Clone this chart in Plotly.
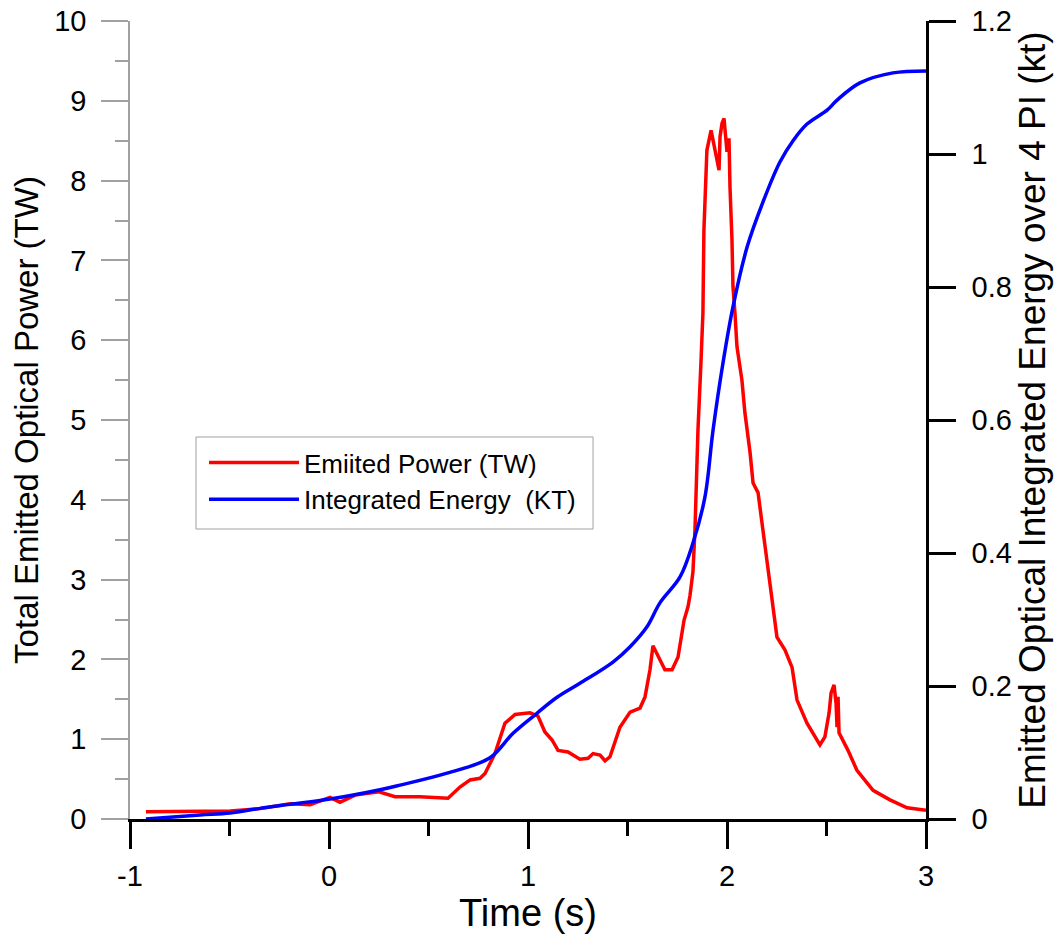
import plotly.graph_objects as go

# ---- data ----
t_power = [-0.920, -0.648, -0.497, -0.347, -0.196, -0.095, 0.005, 0.055, 0.131, 0.251,
           0.332, 0.457, 0.558, 0.598, 0.658, 0.709, 0.759, 0.784, 0.834, 0.884,
           0.935, 1.010, 1.050, 1.085, 1.121, 1.151, 1.201, 1.261, 1.302, 1.327,
           1.362, 1.387, 1.412, 1.462, 1.513, 1.563, 1.588, 1.613, 1.628, 1.663,
           1.688, 1.724, 1.754, 1.784, 1.804, 1.814, 1.829, 1.839, 1.854, 1.869,
           1.879, 1.884, 1.894, 1.899, 1.920, 1.930, 1.950, 1.960, 1.965, 1.975,
           1.985, 1.995, 2.000, 2.010, 2.015, 2.025, 2.030, 2.040, 2.050, 2.075,
           2.090, 2.116, 2.131, 2.156, 2.176, 2.201, 2.226, 2.251, 2.291, 2.327,
           2.352, 2.402, 2.467, 2.492, 2.513, 2.523, 2.538, 2.548, 2.553, 2.558,
           2.563, 2.608, 2.653, 2.734, 2.819, 2.905, 3.000]
power_tw = [0.09, 0.09, 0.10, 0.13, 0.19, 0.18, 0.27, 0.21, 0.30, 0.34,
            0.28, 0.28, 0.26, 0.26, 0.40, 0.49, 0.51, 0.57, 0.82, 1.20,
            1.31, 1.33, 1.29, 1.09, 0.99, 0.86, 0.84, 0.75, 0.76, 0.82,
            0.80, 0.73, 0.78, 1.15, 1.34, 1.39, 1.53, 1.87, 2.17, 1.99,
            1.87, 1.87, 2.03, 2.49, 2.66, 2.80, 3.10, 3.62, 4.87, 5.71,
            6.34, 7.38, 8.00, 8.38, 8.63, 8.50, 8.26, 8.13, 8.55, 8.72,
            8.78, 8.50, 8.36, 8.53, 7.92, 7.26, 6.67, 6.34, 5.92, 5.50,
            5.09, 4.59, 4.21, 4.09, 3.71, 3.21, 2.74, 2.28, 2.12, 1.90,
            1.49, 1.20, 0.93, 1.03, 1.33, 1.58, 1.68, 1.45, 1.15, 1.53,
            1.08, 0.86, 0.61, 0.36, 0.24, 0.14, 0.11]

t_energy = [-0.920, -0.648, -0.497, -0.347, -0.196, 0.005, 0.256, 0.357, 0.593, 0.809,
            0.925, 1.045, 1.146, 1.261, 1.427, 1.513, 1.598, 1.663, 1.764, 1.829,
            1.889, 1.930, 1.980, 2.030, 2.101, 2.181, 2.266, 2.332, 2.402, 2.503,
            2.553, 2.668, 2.834, 3.000]
energy_kt = [0.000, 0.006, 0.009, 0.016, 0.022, 0.030, 0.044, 0.051, 0.069, 0.092,
             0.129, 0.159, 0.183, 0.204, 0.236, 0.259, 0.289, 0.325, 0.364, 0.415,
             0.484, 0.585, 0.686, 0.770, 0.860, 0.928, 0.988, 1.020, 1.045, 1.066,
             1.081, 1.107, 1.122, 1.125]

x_tick_values = [-1, 0, 1, 2, 3]
x_tick_labels = ["-1", "0", "1", "2", "3"]

series_names = ["Emiited Power (TW)", "Integrated Energy  (KT)"]
x_title = "Time (s)"
y_title = "Total Emitted Optical Power (TW)"
y2_title = "Emitted Optical Integrated Energy over 4 PI (kt)"

FONT = "Liberation Sans, Arial, sans-serif"

fig = go.Figure()
fig.add_trace(go.Scatter(x=t_power, y=power_tw, mode="lines", name=series_names[0],
                         line=dict(color="#ff0000", width=3.5), yaxis="y"))
fig.add_trace(go.Scatter(x=t_energy, y=energy_kt, mode="lines", name=series_names[1],
                         line=dict(color="#0000ff", width=3.5, shape="spline"), yaxis="y2"))

fig.update_layout(
    width=1062, height=937,
    margin=dict(l=130, r=136, t=21, b=118),
    paper_bgcolor="white", plot_bgcolor="white",
    font=dict(family=FONT, color="black", size=29),
    showlegend=True,
    legend=dict(x=0.093, y=0.476, xanchor="left", yanchor="top",
                borderwidth=0, bgcolor="rgba(0,0,0,0)",
                font=dict(size=26, family=FONT), itemwidth=90,
                tracegroupgap=0),
    # frame around the legend, matching the reference box
    shapes=[dict(type="rect", xref="paper", yref="paper",
                 x0=0.0829, x1=0.5817, y0=0.3634, y1=0.4787,
                 line=dict(color="#a0a0a0", width=1), fillcolor="white",
                 layer="below")],
    xaxis=dict(range=[-1, 3], tickvals=x_tick_values, ticktext=x_tick_labels,
               showgrid=False, zeroline=False, automargin=False,
               ticklabeloverflow="allow",
               showline=True, linecolor="black", linewidth=3,
               ticks="outside", ticklen=27, tickwidth=2.5, tickcolor="black",
               minor=dict(dtick=0.5, tick0=-1, ticks="outside", ticklen=14, tickwidth=2.5,
                          tickcolor="black", showgrid=False),
               tickfont=dict(size=29), ticklabelstandoff=2,
               title=dict(text=x_title, font=dict(size=38), standoff=0)),
    yaxis=dict(range=[0, 10], dtick=1, showgrid=False, zeroline=False, automargin=False,
               ticklabeloverflow="allow",
               showline=True, linecolor="#a0a0a0", linewidth=1.5,
               ticks="outside", ticklen=27, tickwidth=1.5, tickcolor="#a0a0a0",
               minor=dict(dtick=0.5, ticks="outside", ticklen=13, tickwidth=1.5,
                          tickcolor="#a0a0a0", showgrid=False),
               tickfont=dict(size=29), ticklabelstandoff=9,
               title=dict(text=y_title, font=dict(size=33), standoff=6)),
    yaxis2=dict(range=[0, 1.2], dtick=0.2, overlaying="y", side="right",
                showgrid=False, zeroline=False, automargin=False,
                ticklabeloverflow="allow",
                showline=True, linecolor="black", linewidth=2.5,
                ticks="outside", ticklen=27, tickwidth=2.5, tickcolor="black",
                tickfont=dict(size=29), ticklabelstandoff=10,
                title=dict(text=y2_title, font=dict(size=37), standoff=3)),
)

# remove the page's default 8px body margin so the figure fills the window exactly
fig.write_html("out.html", config={"displayModeBar": False},
               post_script="document.body.style.margin='0px';")
